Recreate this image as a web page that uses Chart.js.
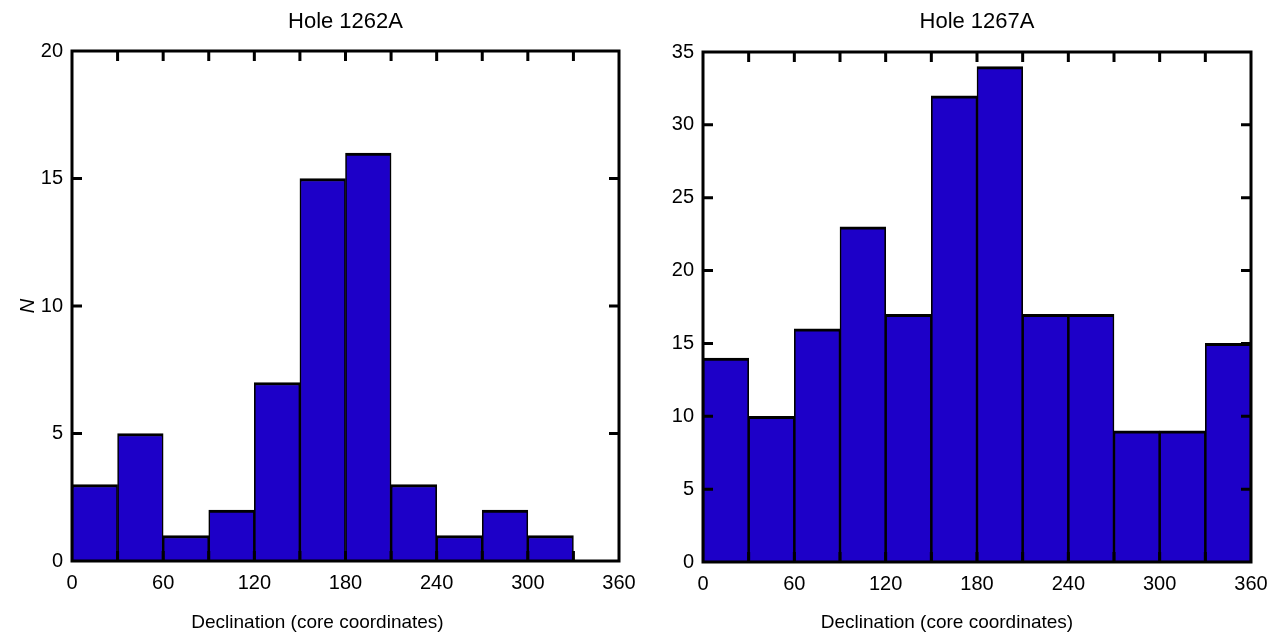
<!DOCTYPE html>
<html>
<head>
<meta charset="utf-8">
<script src="https://cdn.jsdelivr.net/npm/chart.js@4"></script>
<style>
  html, body { margin: 0; padding: 0; background: #fff; }
  #wrap { position: relative; width: 1287px; height: 644px; }
  .panel { position: absolute; top: 0; }
</style>
</head>
<body>
<div id="wrap">
  <canvas id="left" class="panel" style="left:0px" width="646" height="644"></canvas>
  <canvas id="right" class="panel" style="left:643px" width="644" height="644"></canvas>
</div>
<script>
// bin centres (declination, 30 degree bins)
const binCenters = [15, 45, 75, 105, 135, 165, 195, 225, 255, 285, 315, 345];
const counts1262A = [3, 5, 1, 2, 7, 15, 16, 3, 1, 2, 1, 0];
const counts1267A = [14, 10, 16, 23, 17, 32, 34, 17, 17, 9, 9, 15];
const yMax1262A = 20;
const yMax1267A = 35;
const xLabelStep = 60;

const barColor = '#1d00c8';
const fontFamily = '"Liberation Sans", Arial, Helvetica, sans-serif';

Chart.defaults.color = '#000';
Chart.defaults.font.family = fontFamily;

// box around the plot with inward tick marks on all four sides
const framePlugin = {
  id: 'frame',
  afterDatasetsDraw(chart) {
    const ctx = chart.ctx;
    const a = chart.chartArea;
    const x = chart.scales.x;
    const y = chart.scales.y;
    const len = 10;
    ctx.save();
    ctx.strokeStyle = '#000';
    ctx.lineWidth = 3;
    ctx.beginPath();
    x.ticks.forEach(function (t) {
      const px = x.getPixelForValue(t.value);
      if (px <= a.left + 1 || px >= a.right - 1) return;
      ctx.moveTo(px, a.top);
      ctx.lineTo(px, a.top + len);
      ctx.moveTo(px, a.bottom);
      ctx.lineTo(px, a.bottom - len);
    });
    y.ticks.forEach(function (t) {
      const py = y.getPixelForValue(t.value);
      if (py <= a.top + 1 || py >= a.bottom - 1) return;
      ctx.moveTo(a.left, py);
      ctx.lineTo(a.left + len, py);
      ctx.moveTo(a.right, py);
      ctx.lineTo(a.right - len, py);
    });
    ctx.stroke();
    ctx.strokeRect(a.left, a.top, a.right - a.left, a.bottom - a.top);
    ctx.restore();
  },
};

function makeChart(id, title, counts, yMax, opts) {
  const data = binCenters.map((c, i) => ({ x: c, y: counts[i] }));
  const config = {
    type: 'bar',
    data: {
      datasets: [
        {
          data: data,
          backgroundColor: barColor,
          borderColor: '#000',
          borderWidth: { top: 3, left: 1.6, right: 1.6, bottom: 0 },
          borderSkipped: false,
          barPercentage: 1,
          categoryPercentage: 1,
        },
      ],
    },
    options: {
      responsive: false,
      animation: false,
      layout: { padding: { left: opts.padLeft, right: opts.padRight, top: 0, bottom: 0 } },
      plugins: {
        legend: { display: false },
        tooltip: { enabled: false },
        title: {
          display: true,
          fullSize: false,
          text: title,
          color: '#000',
          font: { size: 22, weight: 'normal', family: fontFamily },
          padding: { top: 9, bottom: opts.titleBottom },
        },
        subtitle: {
          display: true,
          position: 'bottom',
          text: 'Declination (core coordinates)',
          color: '#000',
          font: { size: 19, weight: 'normal', family: fontFamily },
          padding: { top: 0, bottom: 10 },
        },
      },
      scales: {
        x: {
          type: 'linear',
          min: 0,
          max: 360,
          offset: false,
          grid: { display: false, drawTicks: false, offset: false },
          border: { display: false },
          ticks: {
            stepSize: 30,
            autoSkip: false,
            maxRotation: 0,
            padding: 10,
            font: { size: 20 },
            callback: (v) => (v % xLabelStep === 0 ? v : ''),
          },
          afterFit: (s) => { s.height = opts.xHeight; },
        },
        y: {
          min: 0,
          max: yMax,
          grid: { display: false, drawTicks: false },
          border: { display: false },
          ticks: { stepSize: 5, padding: 9, font: { size: 20 } },
          title: {
            display: opts.yTitle !== '',
            text: opts.yTitle,
            font: { size: 20, style: 'italic' },
            padding: { top: 0, bottom: 0 },
          },
          afterFit: (s) => { s.width = opts.yWidth; },
        },
      },
    },
    plugins: [framePlugin],
  };
  return new Chart(document.getElementById(id), config);
}

makeChart('left', 'Hole 1262A', counts1262A, yMax1262A, {
  padLeft: 16, padRight: 27, titleBottom: 15.6, xHeight: 50.2, yWidth: 56, yTitle: 'N',
});
makeChart('right', 'Hole 1267A', counts1267A, yMax1267A, {
  padLeft: 0, padRight: 36, titleBottom: 16.6, xHeight: 49.2, yWidth: 60, yTitle: '',
});
</script>
</body>
</html>
